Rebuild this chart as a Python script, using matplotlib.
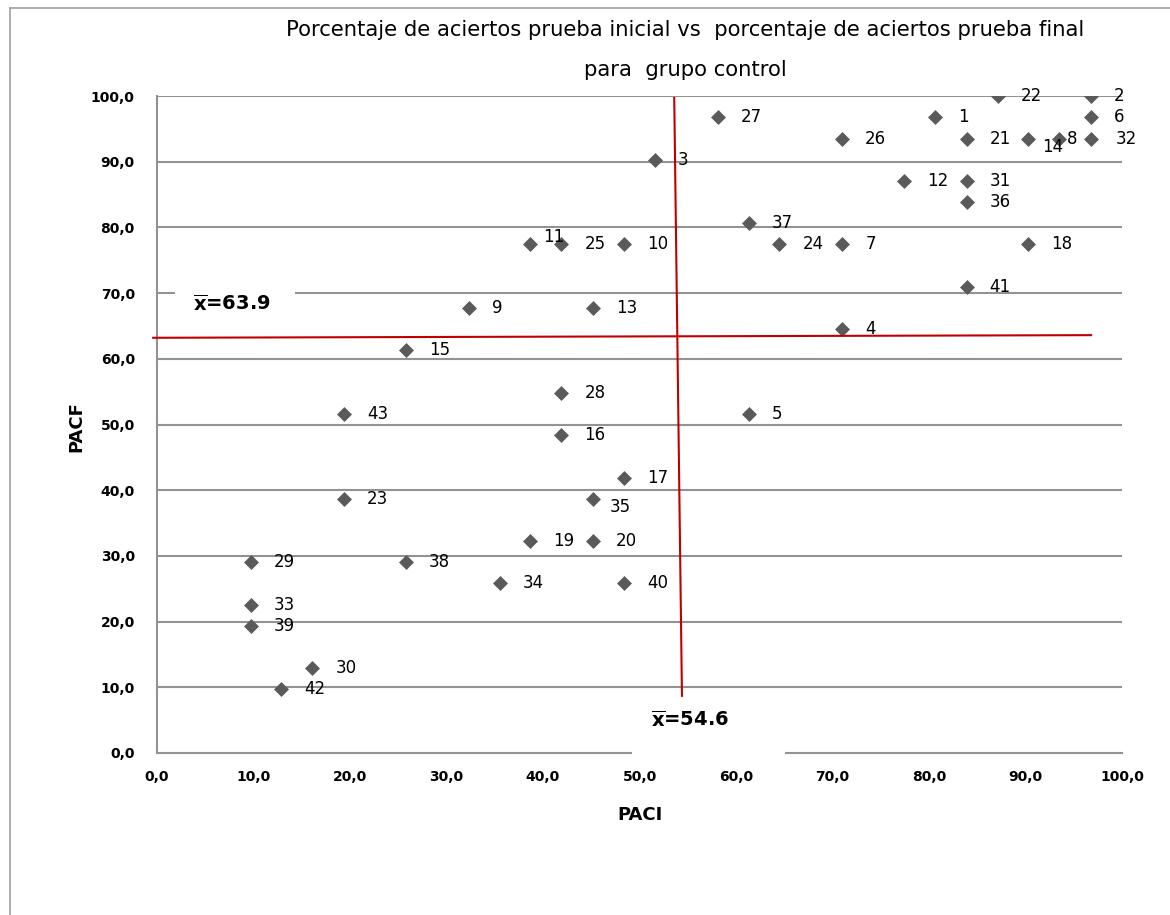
import matplotlib
matplotlib.use("Agg")
import matplotlib.pyplot as plt
from matplotlib.lines import Line2D
from matplotlib.patches import Rectangle

# student number, % correct initial test (PACI), % correct final test (PACF)
student_ids = [22, 2, 1, 6, 27, 26, 21, 14, 8, 32, 3, 12, 31, 36, 37,
               11, 25, 10, 24, 7, 18, 41, 9, 13, 4, 15, 28, 43, 5, 16,
               17, 23, 35, 19, 20, 29, 38, 34, 40, 33, 39, 30, 42]
paci = [87.1, 96.8, 80.6, 96.8, 58.1, 71.0, 83.9, 90.3, 93.5, 96.8, 51.6, 77.4, 83.9, 83.9, 61.3,
        38.7, 41.9, 48.4, 64.5, 71.0, 90.3, 83.9, 32.3, 45.2, 71.0, 25.8, 41.9, 19.4, 61.3, 41.9,
        48.4, 19.4, 45.2, 38.7, 45.2, 9.7, 25.8, 35.5, 48.4, 9.7, 9.7, 16.1, 12.9]
pacf = [100.0, 100.0, 96.8, 96.8, 96.8, 93.5, 93.5, 93.5, 93.5, 93.5, 90.3, 87.1, 87.1, 83.9, 80.6,
        77.4, 77.4, 77.4, 77.4, 77.4, 77.4, 71.0, 67.7, 67.7, 64.5, 61.3, 54.8, 51.6, 51.6, 48.4,
        41.9, 38.7, 38.7, 32.3, 32.3, 29.0, 29.0, 25.8, 25.8, 22.6, 19.4, 12.9, 9.7]

mean_paci_label = "54.6"
mean_pacf_label = "63.9"
y_ticks = [0, 10, 20, 30, 40, 50, 60, 70, 80, 90, 100]
x_ticks = [0, 10, 20, 30, 40, 50, 60, 70, 80, 90, 100]

# labels that were nudged by hand in the original (pixel offsets)
label_offsets = {11: (13, 7), 14: (14, -8), 8: (8, 0), 32: (25, 0), 35: (17, -8)}

GRID = "#929292"
RED = "#c00000"
MARK = "#5a5a5a"

fig = plt.figure(figsize=(11.7, 9.15), dpi=100)
ax = fig.add_axes([157 / 1170, 1 - 753 / 915, (1122 - 157) / 1170, (753 - 96) / 915])

ax.set_xlim(0, 100)
ax.set_ylim(0, 100)
for y in y_ticks[1:]:
    ax.axhline(y, color=GRID, linewidth=1.5, zorder=1)

ax.scatter(paci, pacf, marker="D", s=58, color=MARK, zorder=4, linewidths=0)
for sid, x, y in zip(student_ids, paci, pacf):
    dx, dy = label_offsets.get(sid, (23, 0))
    ax.annotate(str(sid), (x, y), xytext=(dx, dy), textcoords="offset pixels",
                ha="left", va="center", fontsize=12, color="black", zorder=5)

# hand-drawn mean lines
ax.plot([53.6, 54.4], [99.7, 8.7], color=RED, linewidth=1.5, zorder=6, clip_on=False)
ax.plot([-0.4, 96.8], [63.2, 63.6], color=RED, linewidth=1.5, zorder=6, clip_on=False)

# white text boxes of the mean labels
ax.add_patch(Rectangle((1.9, 65.9), 12.4, 5.3, facecolor="white", edgecolor="none",
                       zorder=3, clip_on=False))
ax.add_patch(Rectangle((49.2, -0.4), 15.9, 8.9, facecolor="white", edgecolor="none",
                       zorder=3, clip_on=False))
ax.text(7.8, 68.3, r"$\overline{\mathbf{x}}$=" + mean_pacf_label, ha="center", va="center",
        fontsize=14, fontweight="bold", zorder=7)
ax.text(55.2, 5.0, r"$\overline{\mathbf{x}}$=" + mean_paci_label, ha="center", va="center",
        fontsize=14, fontweight="bold", zorder=7)

ax.set_xticks(x_ticks)
ax.set_yticks(y_ticks)
ax.set_xticklabels([f"{v:.1f}".replace(".", ",") for v in x_ticks], fontsize=10, fontweight="bold")
ax.set_yticklabels([f"{v:.1f}".replace(".", ",") for v in y_ticks], fontsize=10, fontweight="bold")
ax.tick_params(axis="both", length=0)
ax.tick_params(axis="x", pad=12)
ax.tick_params(axis="y", pad=16)

for side in ["top", "right"]:
    ax.spines[side].set_visible(False)
for side in ["left", "bottom"]:
    ax.spines[side].set_color(GRID)
    ax.spines[side].set_linewidth(1.5)

ax.set_xlabel("PACI", fontsize=13, fontweight="bold")
ax.set_ylabel("PACF", fontsize=13, fontweight="bold")
ax.xaxis.set_label_coords((640 - 157) / 965, -(806 - 753) / 657)
ax.yaxis.set_label_coords(-(157 - 85) / 965, (753 - 427) / 657)

fig.text(685 / 1170, 1 - 30 / 915,
         "Porcentaje de aciertos prueba inicial vs  porcentaje de aciertos prueba final",
         ha="center", va="center", fontsize=15.2)
fig.text(685 / 1170, 1 - 70 / 915, "para  grupo control", ha="center", va="center", fontsize=15.2)

# outer chart frame
fig.add_artist(Line2D([10 / 1170, 1.0], [1 - 8 / 915, 1 - 8 / 915], color="#a0a0a0", linewidth=1.2))
fig.add_artist(Line2D([10 / 1170, 10 / 1170], [0.0, 1 - 8 / 915], color="#a0a0a0", linewidth=1.2))

fig.savefig("out.png", dpi=100)
